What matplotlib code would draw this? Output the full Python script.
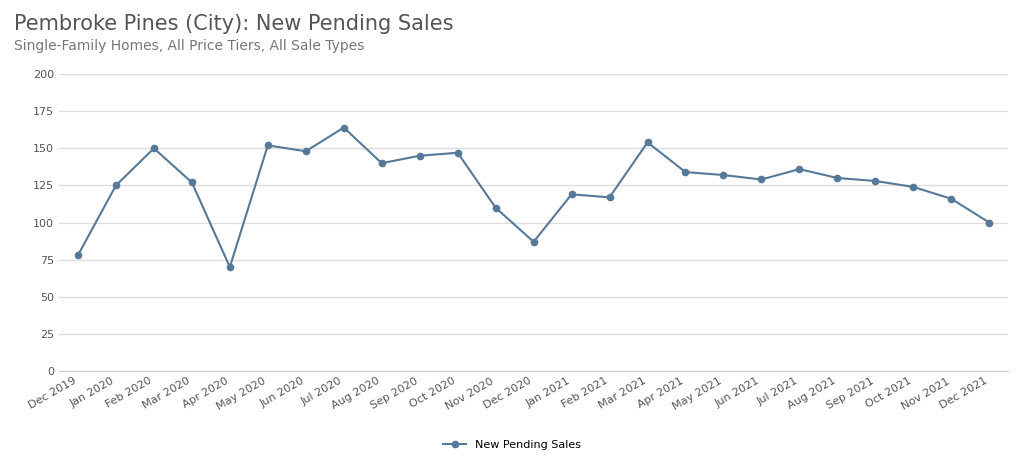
import matplotlib
matplotlib.use('Agg')
import matplotlib.pyplot as plt

months = ['Dec 2019', 'Jan 2020', 'Feb 2020', 'Mar 2020', 'Apr 2020', 'May 2020', 'Jun 2020',
          'Jul 2020', 'Aug 2020', 'Sep 2020', 'Oct 2020', 'Nov 2020', 'Dec 2020', 'Jan 2021',
          'Feb 2021', 'Mar 2021', 'Apr 2021', 'May 2021', 'Jun 2021', 'Jul 2021', 'Aug 2021',
          'Sep 2021', 'Oct 2021', 'Nov 2021', 'Dec 2021']
sales = [78, 125, 150, 127, 70, 152, 148, 164, 140, 145, 147, 110, 87, 119,
         117, 154, 134, 132, 129, 136, 130, 128, 124, 116, 100]
yticks = [0, 25, 50, 75, 100, 125, 150, 175, 200]

fig = plt.figure(figsize=(10.24, 4.69), dpi=100)
ax = fig.add_axes([0.0576, 0.209, 0.927, 0.633])
x = range(len(months))
ax.plot(x, sales, color='#56799a', lw=1.5, marker='o', ms=4.5, label='New Pending Sales')
ax.set_xlim(-0.5, len(months) - 0.5)
ax.set_ylim(0, 200)
ax.set_yticks(yticks)
ax.set_xticks(list(x))
ax.set_xticklabels(months, rotation=30, ha='right', fontsize=8, color='#555555')
ax.tick_params(axis='y', labelsize=8, colors='#555555', length=0)
ax.tick_params(axis='x', length=0)
ax.grid(axis='y', color='#dddddd', lw=1)
for s in ['top', 'right', 'left']:
    ax.spines[s].set_visible(False)
ax.spines['bottom'].set_color('#cccccc')

fig.text(0.014, 0.935, 'Pembroke Pines (City): New Pending Sales', fontsize=15, color='#555555')
fig.text(0.014, 0.893, 'Single-Family Homes, All Price Tiers, All Sale Types', fontsize=10, color='#777777')
fig.legend(loc='lower center', bbox_to_anchor=(0.5, 0.02), frameon=False, fontsize=8)
fig.savefig('out.png', dpi=100)
